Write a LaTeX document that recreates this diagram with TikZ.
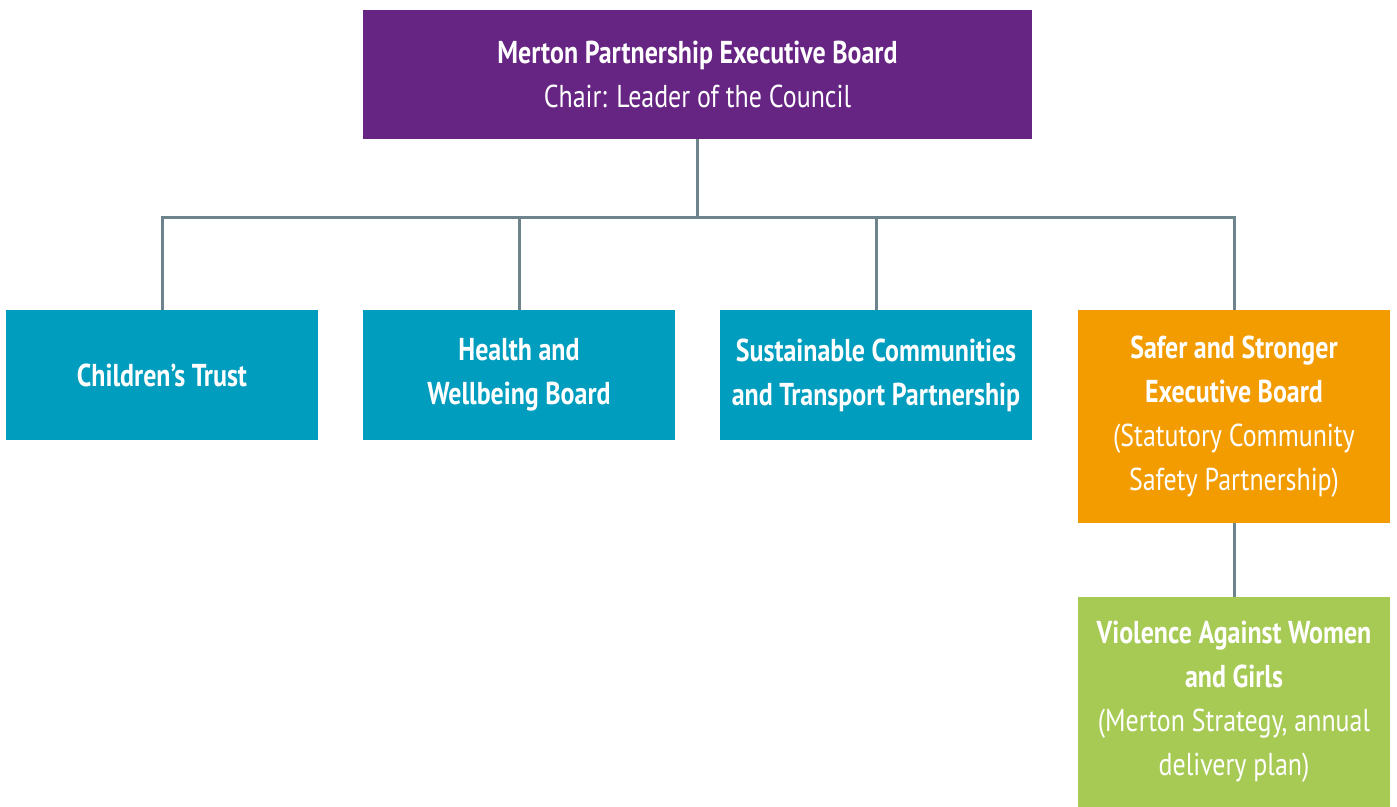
\documentclass[tikz,border=0pt]{standalone}
\usepackage{fontspec}
\setmainfont{PT Sans}[FakeStretch=0.82]
\usepackage{tikz}

\definecolor{violet}{HTML}{662483}
\definecolor{bleu}{HTML}{009DBE}
\definecolor{orange}{HTML}{F39C00}
\definecolor{vert}{HTML}{A7CA55}
\definecolor{gris}{HTML}{6E848C}

\begin{document}
\begin{tikzpicture}[x=0.02cm,y=-0.02cm]
  \tikzstyle{lien}=[draw=gris,line width=3*0.02cm]
\tikzset{bloc/.style={fill=#1,text=white,align=center,inner sep=0pt,
minimum width=6.24cm,minimum height=2.6cm,font=\fontsize{18}{25}\selectfont},
bloc/.default={bleu}}
\useasboundingbox (0,0) rectangle (1397,807);
\node[bloc=violet,minimum width=13.38cm,minimum height=2.58cm] (A) at (697.5,74.5){\textbf{Merton Partnership Executive Board}\\Chair: Leader of the Council};
\node[bloc] (B) at (162,375){\textbf{Children’s Trust}};
\node[bloc] (C) at (519,375){\textbf{Health and}\\\textbf{Wellbeing Board}};
\node[bloc] (D) at (876,375){\textbf{Sustainable Communities}\\\textbf{and Transport Partnership}};
\node[bloc=orange,minimum height=4.26cm] (E) at (1234,416.5){\textbf{Safer and Stronger}\\\textbf{Executive Board}\\(Statutory Community\\Safety Partnership)};
\node[bloc=vert,minimum height=4.2cm] (F) at (1234,702){\textbf{Violence Against Women}\\\textbf{and Girls}\\(Merton Strategy, annual\\delivery plan)};

\coordinate (S) at (697.5,218);
\draw[lien] (A) -- (S);
\foreach \n in {B,C,D,E}
  \draw[lien] (S) -| (\n.north);
\draw[lien] (E) -- (F);

  \end{tikzpicture}
\end{document}
